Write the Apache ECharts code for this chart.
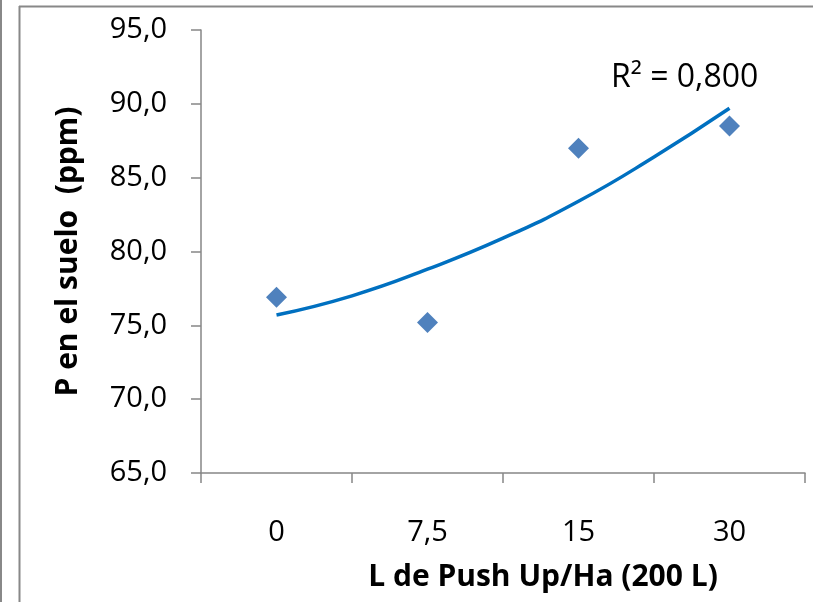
<!DOCTYPE html>
<html>
<head>
<meta charset="utf-8">
<script src="https://cdn.jsdelivr.net/npm/echarts@6/dist/echarts.min.js"></script>
<style>html,body{margin:0;padding:0;background:#fff}#c{width:813px;height:602px}</style>
</head>
<body>
<div id="c"></div>
<script>
var categories = ['0', '7,5', '15', '30'];
var pValues = [76.9, 75.2, 87.0, 88.5];
// trend curve at positions 1..4 (category centres) and midpoints
var trendX = [1, 1.5, 2, 2.5, 3, 3.5, 4];
var trendValues = [75.7, 77.0, 78.8, 80.9, 83.4, 86.4, 89.7];
var yTicks = {min: 65, max: 95, interval: 5};
var r2Text = 'R² = 0,800';
var xTitle = 'L de Push Up/Ha (200 L)';
var yTitle = 'P en el suelo  (ppm)';

var FONT = 'Open Sans';
var chart = echarts.init(document.getElementById('c'), null, {renderer: 'canvas'});
var axisColor = '#868686';
chart.setOption({
  animation: false,
  backgroundColor: '#fff',
  grid: {left: 201, top: 30, right: 8, bottom: 129, containLabel: false},
  xAxis: [{
    type: 'category', data: categories, boundaryGap: true,
    axisLine: {lineStyle: {color: axisColor, width: 1.5}},
    axisTick: {show: true, length: 10, lineStyle: {color: axisColor, width: 1.5}},
    axisLabel: {margin: 45, fontSize: 29, color: '#000', fontFamily: FONT},
    name: xTitle, nameLocation: 'middle', nameGap: 89,
    nameTextStyle: {fontSize: 30, fontWeight: 'bold', color: '#000', fontFamily: FONT, padding: [0, 0, 0, 80]},
    splitLine: {show: false}
  }, {
    type: 'value', min: 0.5, max: 4.5, show: false
  }],
  yAxis: {
    type: 'value', min: yTicks.min, max: yTicks.max, interval: yTicks.interval,
    axisLine: {show: true, lineStyle: {color: axisColor, width: 1.5}},
    axisTick: {show: true, length: 10, lineStyle: {color: axisColor, width: 1.5}},
    axisLabel: {margin: 34, fontSize: 29, color: '#000', fontFamily: FONT,
      formatter: function (v) { return v.toFixed(1).replace('.', ','); }},
    splitLine: {show: false},
    name: yTitle, nameLocation: 'middle', nameGap: 118, nameRotate: 90,
    nameTextStyle: {fontSize: 30, fontWeight: 'bold', color: '#000', fontFamily: FONT}
  },
  series: [{
    type: 'line', xAxisIndex: 1, yAxisIndex: 0, smooth: true,
    data: trendX.map(function (x, i) { return [x, trendValues[i]]; }),
    showSymbol: false, symbol: 'none',
    lineStyle: {color: '#0070C0', width: 3.5}, z: 2
  }, {
    type: 'scatter', xAxisIndex: 0, data: pValues,
    symbol: 'diamond', symbolSize: 21,
    itemStyle: {color: '#4F81BD', opacity: 1}, z: 3
  }],
  graphic: [
    {type: 'line', shape: {x1: 1, y1: 0, x2: 1, y2: 602}, style: {stroke: '#888', lineWidth: 2}},
    {type: 'line', shape: {x1: 19.5, y1: 6, x2: 19.5, y2: 602}, style: {stroke: '#888', lineWidth: 2}},
    {type: 'line', shape: {x1: 19, y1: 6.5, x2: 813, y2: 6.5}, style: {stroke: '#888', lineWidth: 2}},
    {type: 'text', left: 611, top: 62, style: {text: r2Text, fontSize: 32, fill: '#000', fontFamily: FONT}}
  ]
});
</script>
</body>
</html>
